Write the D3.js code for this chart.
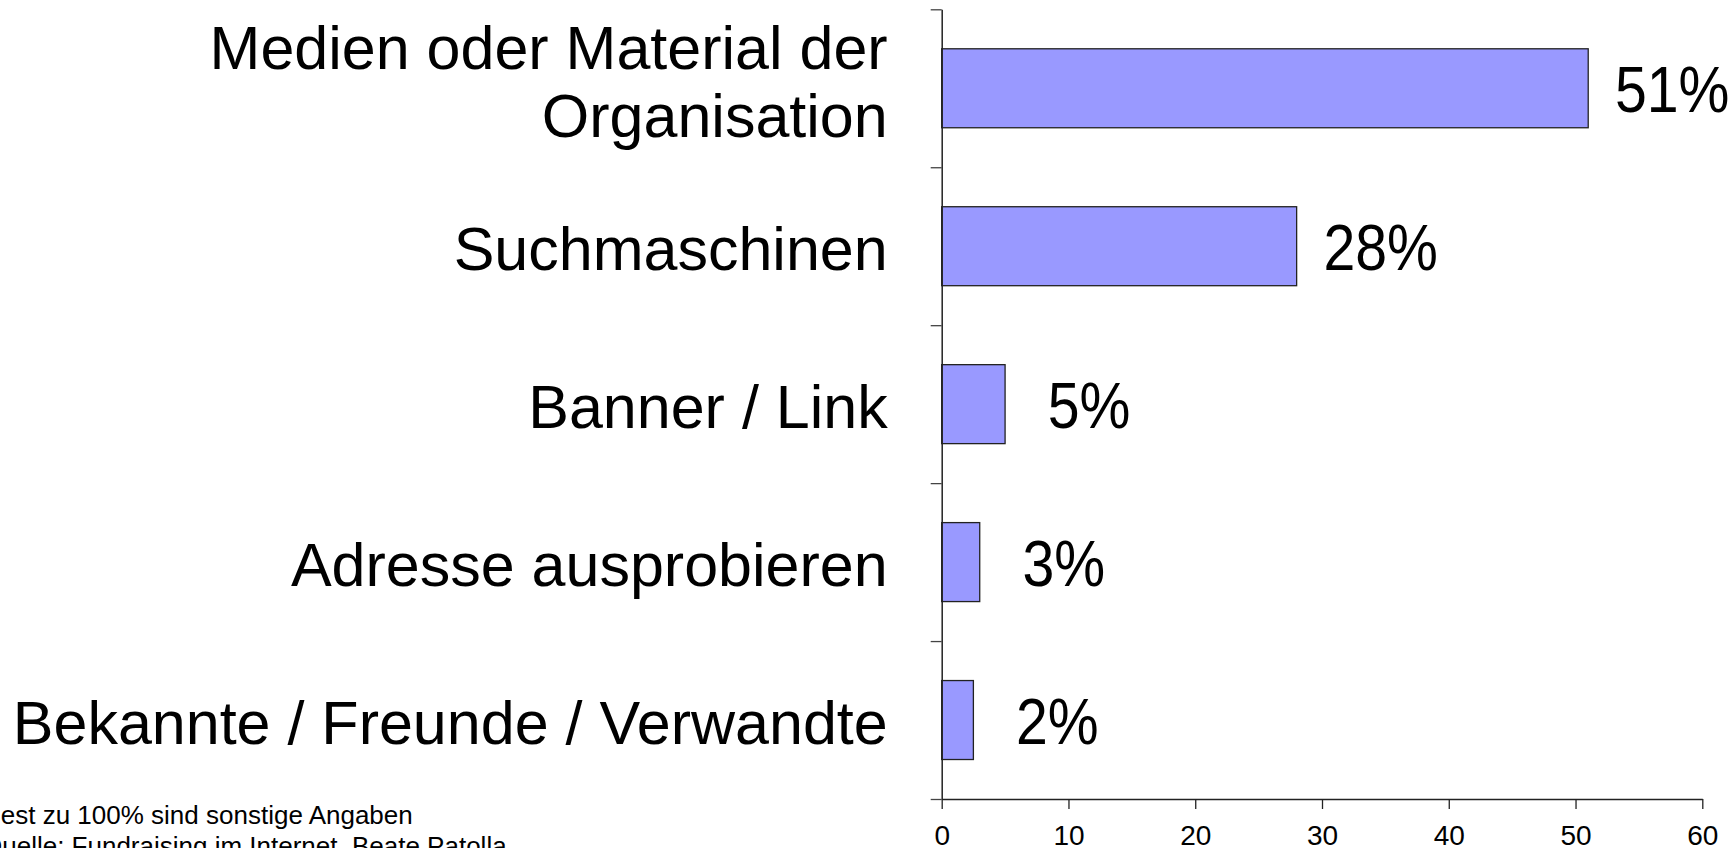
<!DOCTYPE html>
<html>
<head>
<meta charset="utf-8">
<script src="https://cdn.jsdelivr.net/npm/d3@7"></script>
<style>
  body { margin: 0; background: #fff; }
  svg { display: block; font-family: "Liberation Sans", Arial, sans-serif; }
</style>
</head>
<body>
<svg id="chart" width="1736" height="848"></svg>
<script>
// Data
const categories = [
    ["Medien oder Material der", "Organisation"],
    ["Suchmaschinen"],
    ["Banner / Link"],
    ["Adresse ausprobieren"],
    ["Bekannte / Freunde / Verwandte"]
];
const values = [51, 28, 5, 3, 2.5];
const valueLabels = ["51%", "28%", "5%", "3%", "2%"];
const xTicks = [0, 10, 20, 30, 40, 50, 60];
const footnotes = [
    "Rest zu 100% sind sonstige Angaben",
    "Quelle: Fundraising im Internet, Beate Patolla"
];

(function drawChart() {
    const svg = d3.select("#chart");

    // Plot area (pixel edges of the axes)
    const left = 941.7, right = 1702.3, top = 9.3, bottom = 799;

    const keys = categories.map((c, i) => i);

    const x = d3.scaleLinear()
        .domain([0, 60])
        .range([left, right]);

    const y = d3.scaleBand()
        .domain(keys)
        .range([top, bottom])
        .paddingInner(0.5)
        .paddingOuter(0.25);

    // y edges for the category separator ticks
    const yEdge = d3.scaleLinear()
        .domain([0, categories.length])
        .range([top, bottom]);

    // Bars
    svg.append("g")
        .selectAll("rect")
        .data(values)
        .enter().append("rect")
        .attr("x", x(0))
        .attr("y", (d, i) => y(i))
        .attr("width", d => x(d) - x(0))
        .attr("height", y.bandwidth())
        .attr("fill", "#9999ff")
        .attr("stroke", "#222")
        .attr("stroke-width", 1.3);

    // X axis
    const xAxis = svg.append("g")
        .attr("transform", `translate(0,${bottom})`)
        .call(d3.axisBottom(x)
            .tickValues(xTicks)
            .tickSizeInner(10)
            .tickSizeOuter(0)
            .tickPadding(16));
    xAxis.select(".domain").attr("stroke", "#222").attr("stroke-width", 1.5);
    xAxis.selectAll(".tick line").attr("stroke", "#222").attr("stroke-width", 1.3);
    xAxis.selectAll("text")
        .attr("fill", "#000")
        .style("font-size", "28px")
        .style("font-family", "'Liberation Sans', Arial, sans-serif");

    // Y axis (only separator ticks, no labels)
    const yAxis = svg.append("g")
        .attr("transform", `translate(${left},0)`)
        .call(d3.axisLeft(yEdge)
            .ticks(categories.length)
            .tickFormat("")
            .tickSizeInner(11)
            .tickSizeOuter(0));
    yAxis.select(".domain").attr("stroke", "#222").attr("stroke-width", 1.5);
    yAxis.selectAll(".tick line").attr("stroke", "#444").attr("stroke-width", 1.3);

    // Category labels
    const lineHeight = 68;
    svg.append("g")
        .selectAll("text")
        .data(categories)
        .enter().append("text")
        .attr("text-anchor", "end")
        .style("font-size", "61px")
        .attr("fill", "#000")
        .each(function (lines, i) {
            const cy = y(i) + y.bandwidth() / 2;
            const n = lines.length;
            const shift = n > 1 ? -9 : 0;
            d3.select(this).selectAll("tspan")
                .data(lines)
                .enter().append("tspan")
                .attr("x", left - 54)
                .attr("y", (l, j) => cy + 24 + (j - (n - 1) / 2) * lineHeight + shift)
                .text(l => l);
        });

    // Value labels (slightly condensed as in the original)
    svg.append("g")
        .selectAll("text")
        .data(values)
        .enter().append("text")
        .attr("transform", (d, i) =>
            `translate(${x(d) + 84},${y(i) + y.bandwidth() / 2 + 24}) scale(0.88,1)`)
        .attr("text-anchor", "middle")
        .style("font-size", "65px")
        .attr("fill", "#000")
        .text((d, i) => valueLabels[i]);

    // Footnotes (cut off at the left edge in the original)
    svg.append("g")
        .selectAll("text")
        .data(footnotes)
        .enter().append("text")
        .attr("x", -18)
        .attr("y", (d, i) => 824 + i * 31)
        .style("font-size", "26px")
        .attr("fill", "#000")
        .text(d => d);
})();
</script>
</body>
</html>
